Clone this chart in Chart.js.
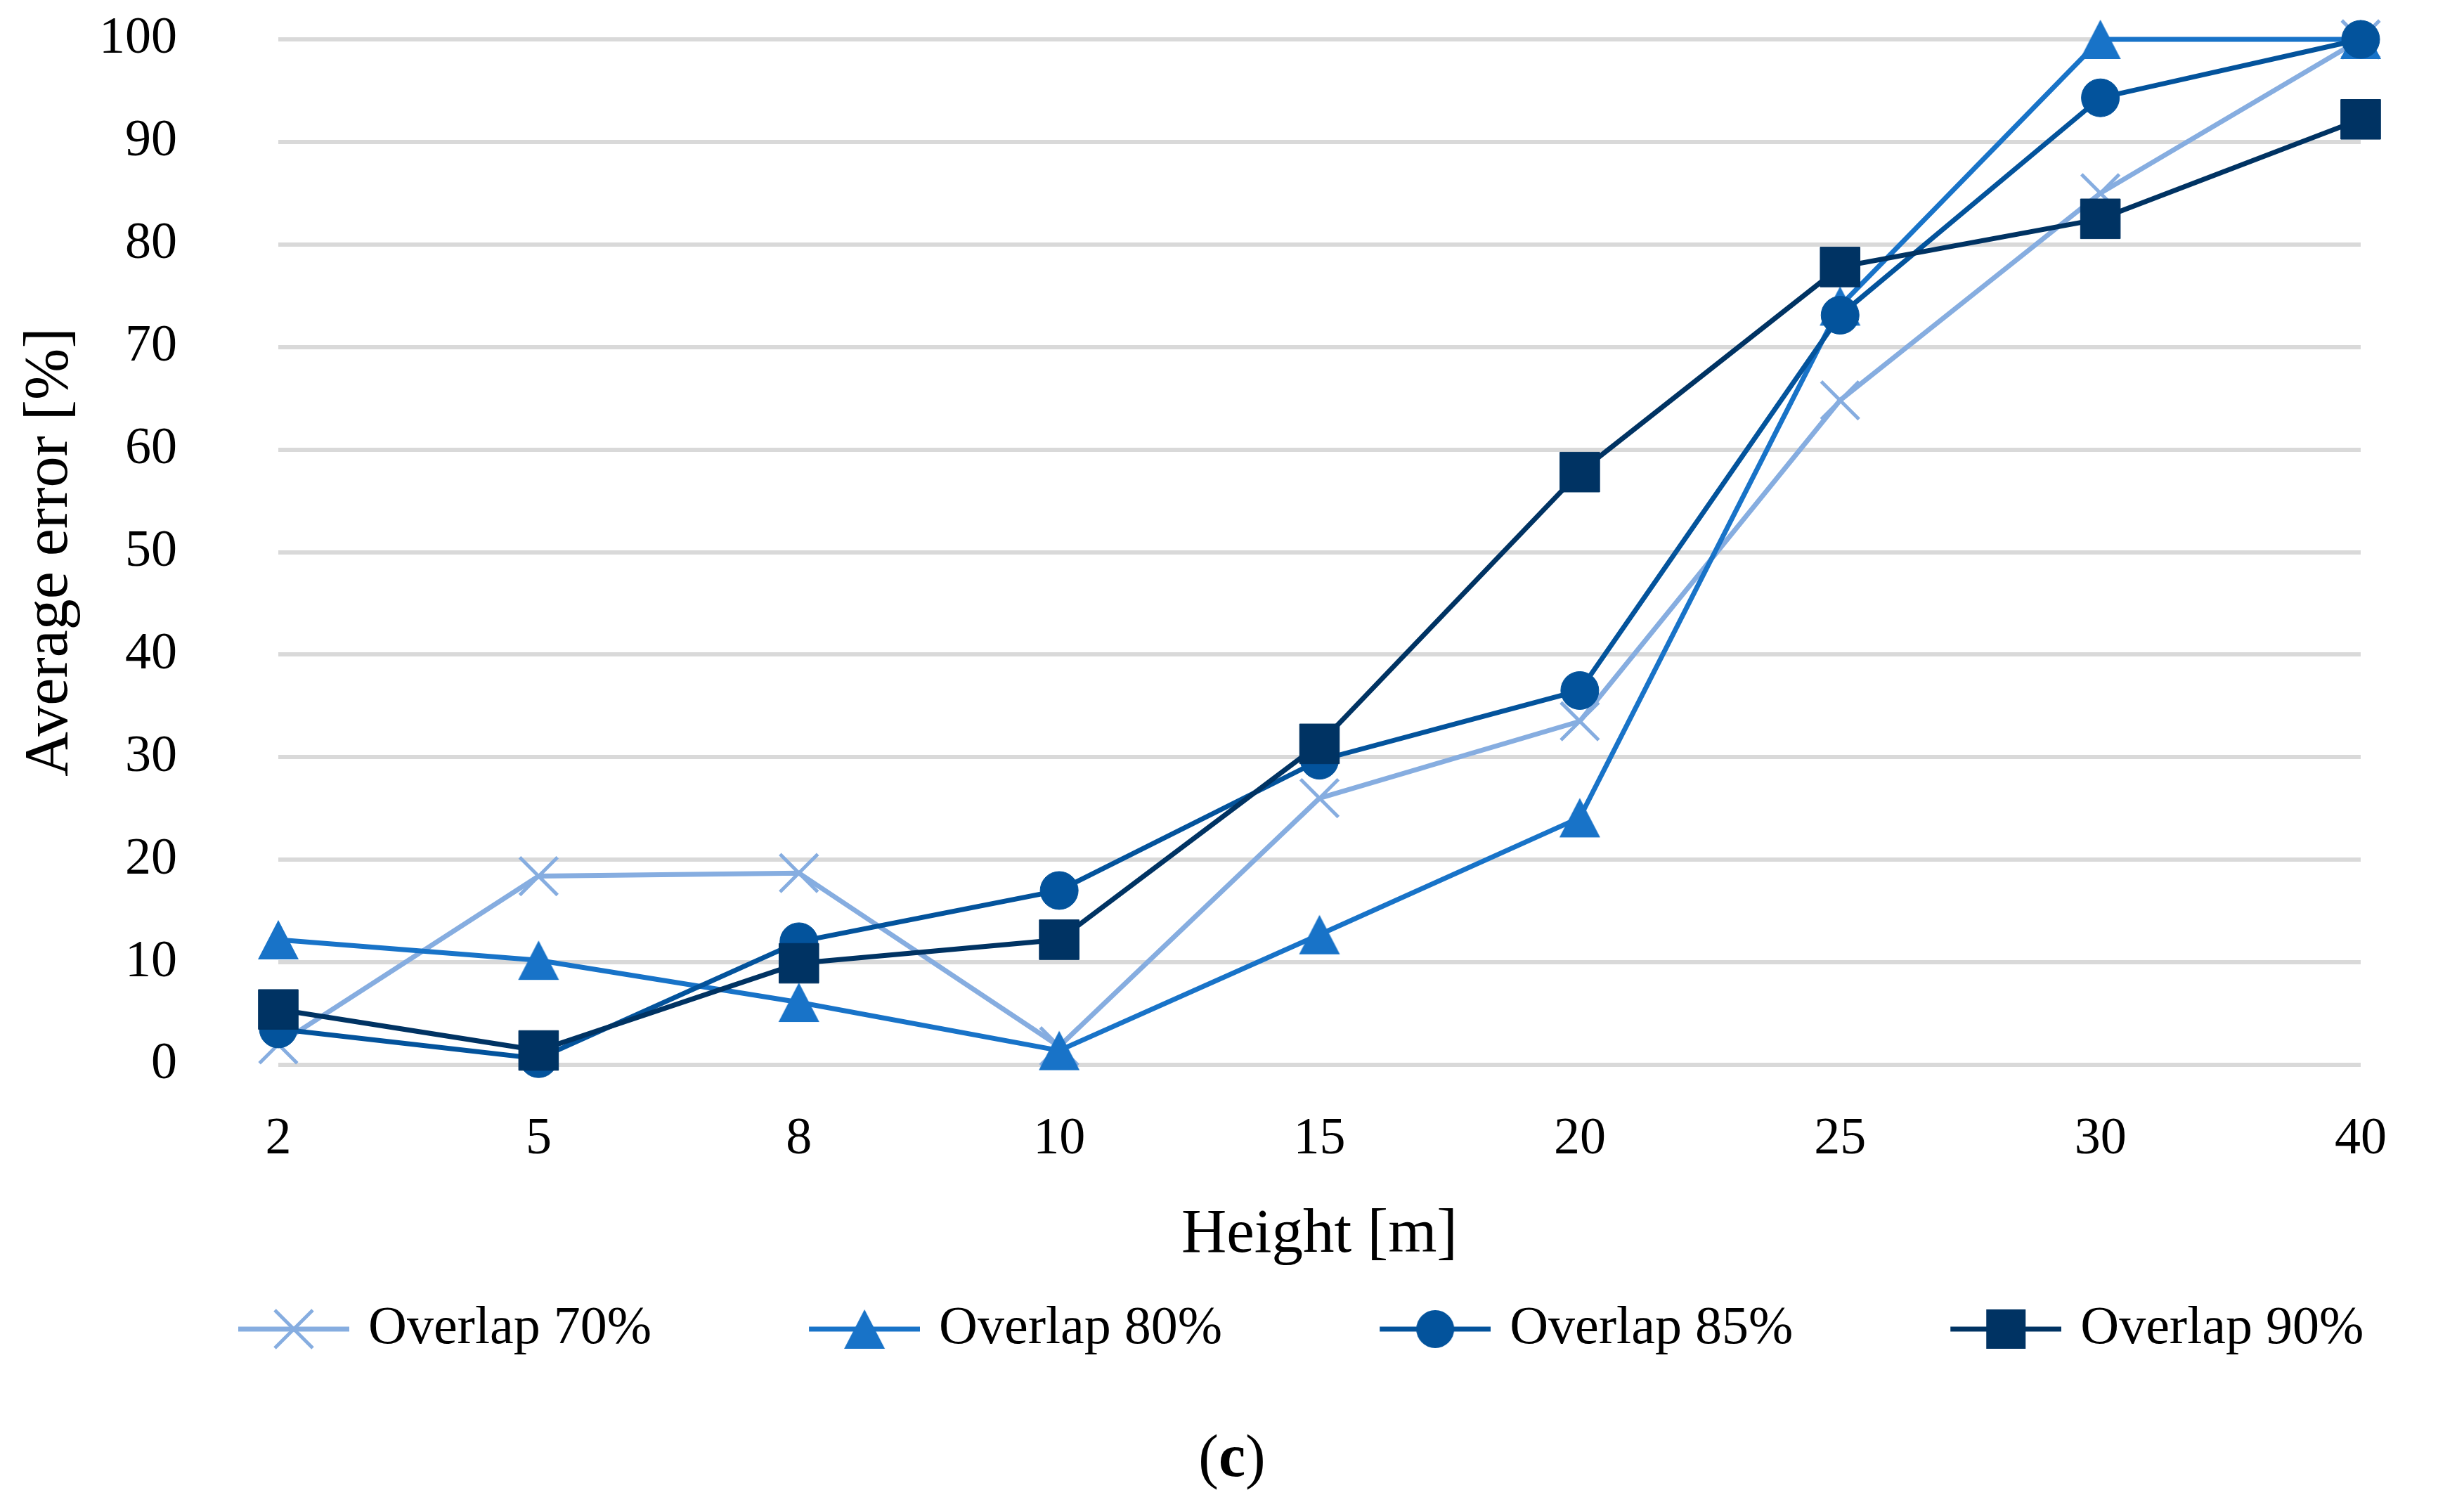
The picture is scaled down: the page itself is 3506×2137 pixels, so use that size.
<!DOCTYPE html>
<html>
<head>
<meta charset="utf-8">
<script src="https://cdn.jsdelivr.net/npm/chart.js@4.4.1/dist/chart.umd.min.js"></script>
<style>
  html, body { margin: 0; padding: 0; background: #fff; }
  #wrap { width: 3506px; height: 2137px; }
</style>
</head>
<body>
<div id="wrap"><canvas id="chart"></canvas></div>
<script>
// data
var heights = ["2", "5", "8", "10", "15", "20", "25", "30", "40"];
var overlap70 = [2.0, 18.4, 18.7, 1.8, 26.0, 33.5, 64.8, 85.0, 100];
var overlap80 = [12.2, 10.2, 6.1, 1.4, 12.7, 24.1, 74.0, 100, 100];
var overlap85 = [3.5, 0.6, 12.0, 17.0, 29.7, 36.5, 73.1, 94.3, 100];
var overlap90 = [5.4, 1.4, 9.9, 12.2, 31.3, 57.8, 77.8, 82.5, 92.2];
var seriesNames = ["Overlap 70%", "Overlap 80%", "Overlap 85%", "Overlap 90%"];
var seriesColors = ["#86ade0", "#1873c8", "#03539c", "#003363"];
var seriesMarkers = ["cross", "triangle", "circle", "square"];

var FONT = "'Liberation Serif', 'Times New Roman', serif";

function drawMarker(ctx, kind, color, cx, cy) {
  ctx.fillStyle = color;
  ctx.strokeStyle = color;
  if (kind == "cross") {
    var h = 27;
    ctx.lineWidth = 5;
    ctx.beginPath();
    ctx.moveTo(cx - h, cy - h); ctx.lineTo(cx + h, cy + h);
    ctx.moveTo(cx + h, cy - h); ctx.lineTo(cx - h, cy + h);
    ctx.stroke();
  } else if (kind == "triangle") {
    ctx.beginPath();
    ctx.moveTo(cx, cy - 28);
    ctx.lineTo(cx + 29, cy + 28);
    ctx.lineTo(cx - 29, cy + 28);
    ctx.closePath();
    ctx.fill();
  } else if (kind == "circle") {
    ctx.beginPath();
    ctx.arc(cx, cy, 27, 0, Math.PI * 2);
    ctx.fill();
  } else {
    ctx.fillRect(cx - 28, cy - 28, 56, 56);
  }
}

// triangle drawn as image so it sits centred on its box like the original
function triangleImage(color) {
  var c = document.createElement("canvas");
  c.width = 62; c.height = 60;
  drawMarker(c.getContext("2d"), "triangle", color, 31, 30);
  return c;
}

// legend icon: short line with the marker on it
function legendIcon(kind, color) {
  var c = document.createElement("canvas");
  c.width = 373; c.height = 70;
  var g = c.getContext("2d");
  g.strokeStyle = color;
  g.lineWidth = 7;
  g.beginPath(); g.moveTo(215, 35); g.lineTo(373, 35); g.stroke();
  drawMarker(g, kind, color, 294, 35);
  return c;
}
var icons = seriesMarkers.map(function (m, i) { return legendIcon(m, seriesColors[i]); });

function series(i, values, style, radius, pbw) {
  return {
    label: seriesNames[i],
    data: values,
    borderColor: seriesColors[i],
    backgroundColor: seriesColors[i],
    pointBackgroundColor: seriesColors[i],
    pointBorderColor: seriesColors[i],
    borderWidth: 7,
    pointStyle: style,
    pointRadius: radius,
    pointBorderWidth: pbw,
    tension: 0,
    clip: false,
    order: 4 - i
  };
}

var legendShift = {
  id: "legendShift",
  afterLayout: function (chart) {
    chart.legend.left += 96;
    chart.legend.right += 96;
  }
};

var caption = {
  id: "caption",
  afterDraw: function (chart) {
    var ctx = chart.ctx, y = chart.height - 59, cx = chart.width / 2;
    ctx.save();
    ctx.fillStyle = "#000";
    ctx.textBaseline = "middle";
    ctx.textAlign = "left";
    ctx.font = "86px " + FONT;
    var wp = ctx.measureText("(").width, wq = ctx.measureText(")").width;
    ctx.font = "bold 86px " + FONT;
    var wc = ctx.measureText("c").width;
    var x = cx - (wp + wc + wq) / 2;
    ctx.font = "86px " + FONT;
    ctx.fillText("(", x, y);
    ctx.font = "bold 86px " + FONT;
    ctx.fillText("c", x + wp, y);
    ctx.font = "86px " + FONT;
    ctx.fillText(")", x + wp + wc, y);
    ctx.restore();
  }
};

new Chart(document.getElementById("chart"), {
  type: "line",
  data: {
    labels: heights,
    datasets: [
      series(0, overlap70, "crossRot", 38, 5),
      series(1, overlap80, triangleImage(seriesColors[1]), 30, 1),
      series(2, overlap85, "circle", 27, 1),
      series(3, overlap90, "rect", 40, 1)
    ]
  },
  options: {
    responsive: true,
    maintainAspectRatio: false,
    animation: false,
    devicePixelRatio: 1,
    layout: { padding: { left: 19, right: 147, top: 56, bottom: 198 } },
    plugins: {
      tooltip: { enabled: false },
      legend: {
        position: "bottom",
        align: "start",
        labels: {
          usePointStyle: true,
          pointStyleWidth: 351,
          padding: 20,
          color: "#000",
          font: { family: FONT, size: 76 },
          generateLabels: function (chart) {
            var items = Chart.defaults.plugins.legend.labels.generateLabels(chart);
            items.sort(function (a, b) { return a.datasetIndex - b.datasetIndex; });
            items.forEach(function (it) { it.pointStyle = icons[it.datasetIndex]; });
            return items;
          }
        }
      }
    },
    scales: {
      x: {
        type: "category",
        offset: false,
        grid: { display: false, drawTicks: false },
        border: { display: false },
        ticks: { color: "#000", font: { family: FONT, size: 74 }, padding: 62, maxRotation: 0, autoSkip: false },
        title: { display: true, text: "Height [m]", color: "#000", font: { family: FONT, size: 89 }, padding: { top: 39, bottom: 22 } },
        afterFit: function (s) { s.height = 318; }
      },
      y: {
        min: 0,
        max: 100,
        ticks: { stepSize: 10, padding: 144, color: "#000", font: { family: FONT, size: 74 } },
        grid: { color: "#d9d9d9", lineWidth: 6, drawTicks: false },
        border: { display: false },
        title: { display: true, text: "Average error [%]", color: "#000", font: { family: FONT, size: 88 }, padding: { top: 0, bottom: 0 } },
        afterFit: function (s) {
          s.width = 377;
          // tick padding is horizontal here, keep it out of the top/bottom overhang
          s.paddingTop = 44;
          s.paddingBottom = 44;
        }
      }
    }
  },
  plugins: [legendShift, caption]
});
</script>
</body>
</html>
